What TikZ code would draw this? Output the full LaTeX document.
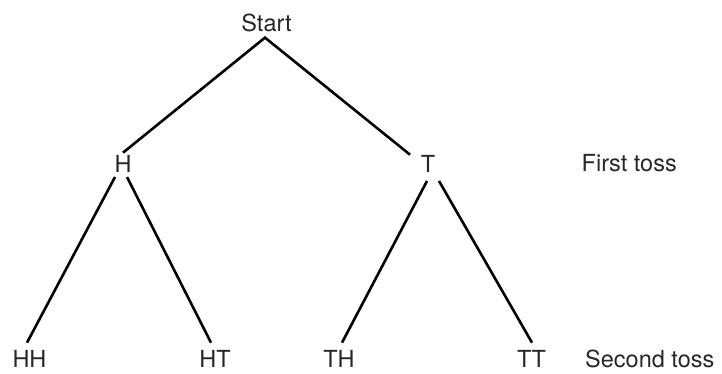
\documentclass[tikz,border=0pt]{standalone}
\usepackage{fontspec}
\setmainfont{TeX Gyre Heros}
\begin{document}
\begin{tikzpicture}[x=1pt,y=-1pt,
  lbl/.style={inner sep=0pt,anchor=base,font=\fontsize{23.5}{26}\selectfont,text=black!85},
  side/.style={lbl,anchor=base west},
  branch/.style={line width=2.6pt,black}]
\useasboundingbox (0,0) rectangle (722,373);

% outcome labels
\node[lbl] (start) at (266.5,31) {Start};
\node[lbl] (h) at (123,172) {H};
\node[lbl] (t) at (428,172) {T};
\node[lbl] (hh) at (29.5,367) {HH};
\node[lbl] (ht) at (215,367) {HT};
\node[lbl] (th) at (339,367) {TH};
\node[lbl] (tt) at (531.5,367) {TT};

% row captions
\node[side] (first) at (581.5,171) {First toss};
\node[side] (second) at (585,367) {Second toss};

% branches of the tree
\draw[branch] ([yshift=2pt]h.north) -- ([xshift=-1.5pt,yshift=-6pt]start.south)
  -- ([xshift=-18pt]t.north);
\draw[branch] ([xshift=-8pt,yshift=-5pt]h.base) -- ([xshift=-2.5pt,yshift=7pt]hh.north);
\draw[branch] ([xshift=4pt,yshift=-5pt]h.base) -- ([xshift=-4pt,yshift=7pt]ht.north);
\draw[branch] ([xshift=-1pt,yshift=-9pt]t.base) -- ([xshift=3pt,yshift=7pt]th.north);
\draw[branch] ([xshift=11pt,yshift=-9pt]t.base) -- ([xshift=0.5pt,yshift=7pt]tt.north);
\end{tikzpicture}
\end{document}
